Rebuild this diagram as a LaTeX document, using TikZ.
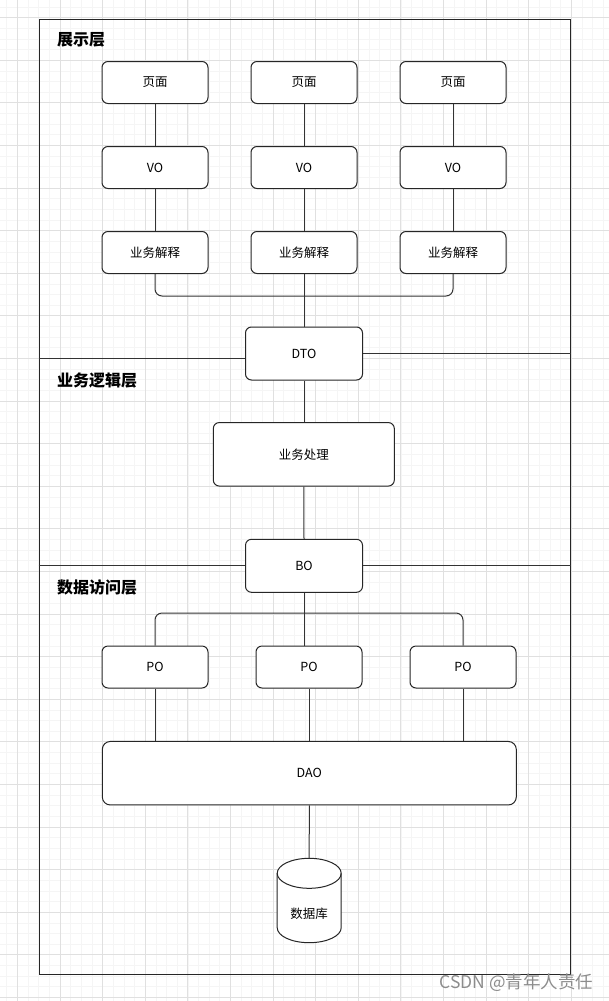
\documentclass[tikz,border=0pt]{standalone}
\usepackage{fontspec}
\setmainfont{Noto Sans CJK SC}
\begin{document}
\begin{tikzpicture}[x=1pt,y=-1pt,
  box/.style={draw=black!85, line width=1pt, fill=white, rounded corners=6pt, font=\fontsize{12.5}{14}\selectfont},
  small/.style={box, minimum width=106pt, minimum height=42pt},
  link/.style={draw=black!80, line width=1pt},
  ttl/.style={font=\fontsize{16}{18}\selectfont\bfseries, anchor=west, inner sep=0pt},
  minorg/.style={draw=black!4, line width=0.8pt},
  majorg/.style={draw=black!12, line width=1pt}]
\useasboundingbox (0,0) rectangle (609,1001);
\fill[white] (0,0) rectangle (609,1001);
% grid
\foreach \i in {0,...,57} {
  \draw[minorg] (6.85+\i*10.65,0) -- ++(0,1001);
}
\foreach \i in {0,...,94} {
  \draw[minorg] (0,7+\i*10.65) -- ++(609,0);
}
\foreach \i in {0,...,14} {
  \draw[majorg] (17.5+\i*42.6,0) -- ++(0,1001);
}
\foreach \i in {0,...,23} {
  \draw[majorg] (0,17.6+\i*42.6) -- ++(609,0);
}
% frame
\node[draw=black!85, line width=1pt, minimum width=531pt, minimum height=955.5pt, anchor=north west, inner sep=0pt] (frame) at (38.5,18.5) {};
% titles
\node[ttl] (t1) at (57,39.5) {展示层};
\node[ttl] (t2) at (57,380.5) {业务逻辑层};
\node[ttl] (t3) at (57,587.5) {数据访问层};
% presentation layer
\foreach \n/\x in {1/155,2/304,3/453} {
  \node[small] (p\n) at (\x,82.5) {页面};
  \node[small] (v\n) at (\x,167.5) {VO};
  \node[small] (s\n) at (\x,252.5) {业务解释};
  \draw[link] (p\n) -- (v\n);
  \draw[link] (v\n) -- (s\n);
}
\node[box, minimum width=117pt, minimum height=53pt] (dto) at (304,353.5) {DTO};
\draw[link, rounded corners=7pt] (s1.south) -- ++(0,22) -| (s3.south);
\draw[link] (s2.south) -- (dto.north);
\coordinate (sepL1) at (38.5,358.3);
\draw[link] (sepL1) -- (sepL1 -| dto.west);
\draw[link] (dto.east) -- (dto.east -| frame.east);
% business layer
\node[box, minimum width=181pt, minimum height=63.5pt] (bp) at (303.8,454.3) {业务处理};
\node[box, minimum width=117pt, minimum height=53pt] (bo) at (304,565.8) {BO};
\draw[link] (dto.south) -- (bo.north |- bp.north);
\draw[link] (bp.south) -- (bo.north);
\draw[link] (bo.west -| frame.west) -- (bo.west);
\draw[link] (bo.east) -- (bo.east -| frame.east);
% data layer
\node[small] (po1) at (155,667) {PO};
\node[small] (po2) at (309,667) {PO};
\node[small] (po3) at (463,667) {PO};
\draw[link, rounded corners=7pt] (po1.north) -- ++(0,-32.5) -| (po3.north);
\draw[link] (bo.south) -- (bo.south |- po2.north);
\node[box, rounded corners=8pt, minimum width=414pt, minimum height=63.5pt] (dao) at (309.3,773.2) {DAO};
\foreach \n in {1,2,3} {
  \draw[link] (po\n.south) -- (po\n.south |- dao.north);
}
% database cylinder
\coordinate (dbtop) at (309.2,858.3);
\draw[draw=black!85, line width=1pt, fill=white]
  (277.2,873.3) -- (277.2,927.7) arc[start angle=180, end angle=360, x radius=32pt, y radius=15pt]
  -- (341.2,873.3) arc[start angle=0, end angle=180, x radius=32pt, y radius=15pt] -- cycle;
\draw[draw=black!85, line width=1pt] (277.2,873.3) arc[start angle=180, end angle=360, x radius=32pt, y radius=15pt];
\node[font=\fontsize{12.5}{14}\selectfont, inner sep=0pt] (db) at (309.2,913.5) {数据库};
\draw[link] (dao.south) -- (dbtop);
% watermark
\node[font=\fontsize{17.5}{19}\selectfont, text=black!45, anchor=west, inner sep=0pt] (wm) at (439.5,982.5) {CSDN @青年人责任};
\end{tikzpicture}
\end{document}
